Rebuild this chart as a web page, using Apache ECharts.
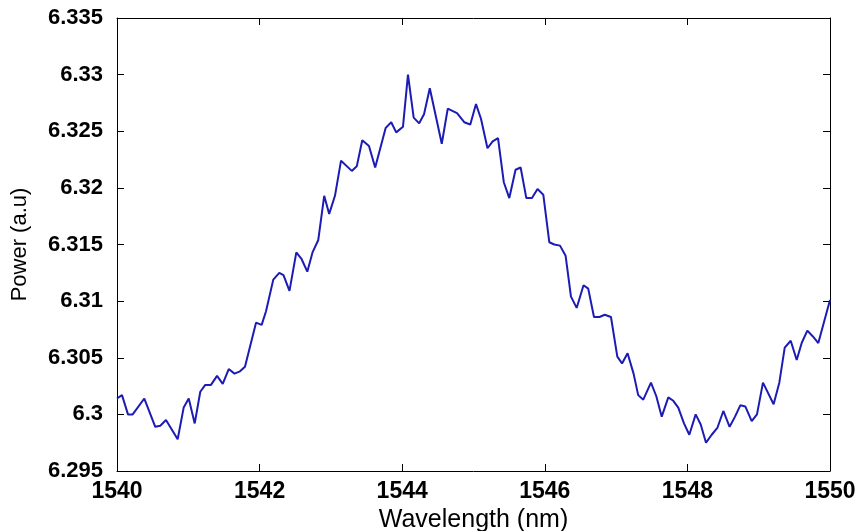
<!DOCTYPE html>
<html>
<head>
<meta charset="utf-8">
<script src="https://cdn.jsdelivr.net/npm/echarts@6/dist/echarts.min.js"></script>
<style>
html,body{margin:0;padding:0;background:#fff;}
#chart{width:859px;height:531px;}
</style>
</head>
<body>
<div id="chart"></div>
<script>
// Wavelength (nm) of each vertex
const wavelength = [
  1540.000,1540.070,1540.154,1540.220,1540.383,1540.537,1540.607,1540.687,1540.851,1540.935,
  1541.006,1541.090,1541.168,1541.238,1541.318,1541.403,1541.483,1541.567,1541.648,1541.725,
  1541.795,1541.950,1542.029,1542.090,1542.192,1542.276,1542.335,1542.419,1542.515,1542.590,
  1542.669,1542.742,1542.823,1542.906,1542.976,1543.057,1543.142,1543.293,1543.363,1543.440,
  1543.534,1543.621,1543.769,1543.846,1543.916,1544.011,1544.081,1544.161,1544.238,1544.306,
  1544.387,1544.555,1544.639,1544.769,1544.870,1544.955,1545.035,1545.105,1545.196,1545.269,
  1545.344,1545.425,1545.502,1545.590,1545.661,1545.741,1545.820,1545.898,1545.979,1546.063,
  1546.133,1546.213,1546.292,1546.367,1546.447,1546.543,1546.609,1546.690,1546.767,1546.841,
  1546.928,1547.017,1547.083,1547.161,1547.245,1547.310,1547.381,1547.489,1547.564,1547.640,
  1547.732,1547.802,1547.872,1547.952,1548.027,1548.116,1548.187,1548.261,1548.341,1548.420,
  1548.504,1548.592,1548.668,1548.742,1548.812,1548.902,1548.976,1549.060,1549.209,1549.289,
  1549.365,1549.449,1549.533,1549.603,1549.682,1549.757,1549.836,1550.000
];
// Power (a.u) at each vertex
const power = [
  6.3014,6.3017,6.3000,6.3000,6.3014,6.2989,6.2990,6.2995,6.2978,6.3006,
  6.3014,6.2992,6.3020,6.3026,6.3026,6.3034,6.3027,6.3040,6.3036,6.3038,
  6.3042,6.3081,6.3079,6.3091,6.3119,6.3125,6.3123,6.3109,6.3143,6.3137,
  6.3126,6.3143,6.3154,6.3193,6.3177,6.3193,6.3224,6.3215,6.3219,6.3242,
  6.3237,6.3218,6.3253,6.3258,6.3249,6.3254,6.3300,6.3262,6.3257,6.3265,
  6.3288,6.3239,6.3270,6.3266,6.3258,6.3256,6.3274,6.3261,6.3235,6.3241,
  6.3244,6.3205,6.3191,6.3216,6.3218,6.3191,6.3191,6.3199,6.3194,6.3152,
  6.3150,6.3149,6.3140,6.3104,6.3094,6.3114,6.3111,6.3086,6.3086,6.3088,
  6.3086,6.3051,6.3045,6.3054,6.3036,6.3017,6.3013,6.3028,6.3016,6.2998,
  6.3015,6.3012,6.3006,6.2992,6.2982,6.3000,6.2991,6.2975,6.2982,6.2988,
  6.3003,6.2989,6.2998,6.3008,6.3007,6.2994,6.3000,6.3028,6.3009,6.3028,
  6.3059,6.3065,6.3048,6.3063,6.3074,6.3069,6.3063,6.3101
];
const xTicks = {min: 1540, max: 1550, interval: 2};
const yTicks = {min: 6.295, max: 6.335, interval: 0.005};

const chart = echarts.init(document.getElementById('chart'), null, {renderer: 'canvas'});
const font = 'Liberation Sans, Arial, Helvetica, sans-serif';
const lineStyle = {color: '#000', width: 1};
const tick = {show: true, inside: true, length: 7, lineStyle: {color: '#000', width: 1}};
const yFmt = v => parseFloat(Number(v).toFixed(3)).toString();
const xFmt = v => String(Math.round(v));

chart.setOption({
  animation: false,
  backgroundColor: '#fff',
  grid: {left: 117, right: 29, top: 18, bottom: 60, containLabel: false, outerBoundsMode: 'none'},
  xAxis: [
    {
      type: 'value', position: 'bottom',
      min: xTicks.min, max: xTicks.max, interval: xTicks.interval,
      name: 'Wavelength (nm)', nameLocation: 'middle', nameGap: 35,
      nameTextStyle: {fontFamily: font, fontSize: 25, color: '#000'},
      axisLine: {show: true, onZero: false, lineStyle},
      axisTick: tick,
      axisLabel: {fontFamily: font, fontSize: 23, fontWeight: 'bold', color: '#000', margin: 9, formatter: xFmt},
      splitLine: {show: false}
    },
    {
      type: 'value', position: 'top',
      min: xTicks.min, max: xTicks.max, interval: xTicks.interval,
      axisLine: {show: true, onZero: false, lineStyle},
      axisTick: tick,
      axisLabel: {show: false},
      splitLine: {show: false}
    }
  ],
  yAxis: [
    {
      type: 'value', position: 'left',
      min: yTicks.min, max: yTicks.max, interval: yTicks.interval,
      name: 'Power (a.u)', nameLocation: 'middle', nameGap: 86, nameRotate: 90,
      nameTextStyle: {fontFamily: font, fontSize: 22, color: '#000'},
      axisLine: {show: true, onZero: false, lineStyle},
      axisTick: tick,
      axisLabel: {fontFamily: font, fontSize: 22, fontWeight: 'bold', color: '#000', margin: 14, formatter: yFmt},
      splitLine: {show: false}
    },
    {
      type: 'value', position: 'right',
      min: yTicks.min, max: yTicks.max, interval: yTicks.interval,
      axisLine: {show: true, onZero: false, lineStyle},
      axisTick: tick,
      axisLabel: {show: false},
      splitLine: {show: false}
    }
  ],
  series: [{
    type: 'line',
    xAxisIndex: 0, yAxisIndex: 0,
    data: wavelength.map((w, i) => [w, power[i]]),
    showSymbol: false,
    symbol: 'none',
    lineStyle: {color: '#1c1cb4', width: 2},
    z: 3
  }]
});
</script>
</body>
</html>
